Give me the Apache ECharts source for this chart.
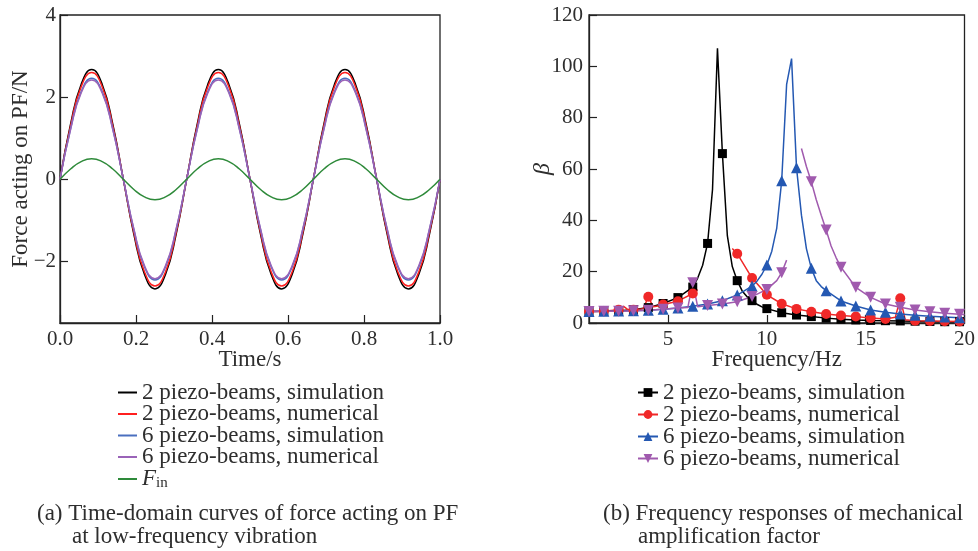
<!DOCTYPE html>
<html><head><meta charset="utf-8">
<script src="https://cdn.jsdelivr.net/npm/echarts@6/dist/echarts.min.js"></script>
<style>html,body{margin:0;padding:0;background:#fff}#c{width:978px;height:551px}</style>
</head><body><div id="c"></div>
<script>
// ---------- (a) time domain ----------
const timeS = [0,0.0278,0.0556,0.0833,0.1111,0.1389,0.1667,0.1944,0.2222,0.25,0.2778,0.3056,0.3333,0.3611,0.3889,0.4167,0.4444,0.4722,0.5,0.5278,0.5556,0.5833,0.6111,0.6389,0.6667,0.6944,0.7222,0.75,0.7778,0.8056,0.8333,0.8611,0.8889,0.9167,0.9444,0.9722,1.0];
const force2Sim = [0,1.34,2.31,2.67,2.31,1.34,0,-1.34,-2.31,-2.67,-2.31,-1.34,0,1.34,2.31,2.67,2.31,1.34,0,-1.34,-2.31,-2.67,-2.31,-1.34,0,1.34,2.31,2.67,2.31,1.34,0,-1.34,-2.31,-2.67,-2.31,-1.34,0];
const force2Num = [0,1.30,2.25,2.60,2.25,1.30,0,-1.30,-2.25,-2.60,-2.25,-1.30,0,1.30,2.25,2.60,2.25,1.30,0,-1.30,-2.25,-2.60,-2.25,-1.30,0,1.30,2.25,2.60,2.25,1.30,0,-1.30,-2.25,-2.60,-2.25,-1.30,0];
const force6Sim = [0,1.23,2.13,2.46,2.13,1.23,0,-1.23,-2.13,-2.45,-2.13,-1.23,0,1.23,2.13,2.46,2.13,1.23,0,-1.23,-2.13,-2.45,-2.13,-1.23,0,1.23,2.13,2.46,2.13,1.23,0,-1.23,-2.13,-2.45,-2.13,-1.23,0];
const force6Num = [0,1.21,2.10,2.42,2.10,1.21,0,-1.21,-2.10,-2.42,-2.10,-1.21,0,1.21,2.10,2.42,2.10,1.21,0,-1.21,-2.10,-2.42,-2.10,-1.21,0,1.21,2.10,2.42,2.10,1.21,0,-1.21,-2.10,-2.42,-2.10,-1.21,0];
const forceIn = [0,0.25,0.43,0.50,0.43,0.25,0,-0.25,-0.43,-0.50,-0.43,-0.25,0,0.25,0.43,0.50,0.43,0.25,0,-0.25,-0.43,-0.50,-0.43,-0.25,0,0.25,0.43,0.50,0.43,0.25,0,-0.25,-0.43,-0.50,-0.43,-0.25,0];
const forceTicks = [-2,0,2,4];

// ---------- (b) frequency response ----------
const markerFreq = [1,1.75,2.5,3.25,4,4.75,5.5,6.25,7,7.75,8.5,9.25,10,10.75,11.5,12.25,13,13.75,14.5,15.25,16,16.75,17.5,18.25,19,19.75];
const freqTicks = [5,10,15,20];

const b2SimFreq = [1,1.75,2.5,3.25,4,4.75,5.5,6.25,6.5,6.75,7,7.25,7.5,7.75,8,8.25,8.5,8.75,9,9.25,9.5,9.75,10,10.75,11.5,12.25,13,13.75,14.5,15.25,16,16.75,17.5,18.25,19,19.75,20];
const b2SimBeta = [4.5,4.6,4.8,5.2,6.0,7.6,9.9,14.0,17.5,22.5,31,52,107,66,34,22,16.5,12.5,10.2,8.7,7.3,6.3,5.6,4.0,3.1,2.5,1.9,1.5,1.2,1.0,0.9,0.8,0.7,0.6,0.5,0.5,0.5];

const b2NumFreq = [1,1.75,2.5,2.75,3,3.25,3.5,3.75,4,4.25,4.5,4.75,5.5,6.25,6.5,7,8.25,8.5,9.25,10,10.75,11.5,12.25,13,13.75,14.5,15.25,16,16.5,16.75,17,17.5,18.25,19,19.75,20];
const b2NumBeta = [4.5,4.6,5.2,6.5,5.0,5.2,5.3,5.6,10.2,6.3,6.6,7.2,8.5,11.5,13.0,null,29,27,17.5,11.0,7.5,5.5,4.4,3.5,2.9,2.5,1.9,1.6,2.2,9.6,1.3,0.9,0.8,0.7,0.6,0.6];

const b6SimFreq = [1,1.75,2.5,3.25,4,4.75,5.5,6.25,7,7.75,8.5,9.25,9.5,9.75,10,10.25,10.5,10.75,11,11.25,11.5,11.75,12,12.25,12.5,12.75,13,13.75,14.5,15.25,16,16.75,17.5,18.25,19,19.75,20];
const b6SimBeta = [4.5,4.6,4.7,4.8,5.0,5.4,5.8,6.5,7.4,8.7,10.9,14.4,16.3,19.0,22.6,28,37,55.4,93,103,60.5,42,29,21.3,16.5,14.2,12.6,8.6,6.6,5.1,4.2,3.5,3.0,2.6,2.3,2.0,2.0];

const b6NumFreq = [1,1.75,2.5,3.25,4,4.75,5.5,6,6.25,6.5,7,7.75,8.5,9.25,10,10.5,10.75,11,11.4,11.75,12,12.25,12.5,12.75,13,13.25,13.5,13.75,14.5,15.25,16,16.75,17.5,18.25,19,19.75,20];
const b6NumBeta = [4.5,4.6,4.6,4.8,5.0,5.4,5.8,6.0,15.7,6.3,6.8,7.4,8.3,10.3,13.1,16.5,19.6,24.5,null,68,61,55,48,42,36.2,30,25.5,21.7,13.9,10.0,7.4,6.1,5.1,4.4,3.8,3.4,3.3];

const FONT = 'Liberation Serif';
const TXT = '#2e2e2e';
const FS = 23;   // text size
const TS = 21;   // tick label size
const LH = 21.6; // legend row height

function pairs(xs, ys) { return xs.map((x, i) => [x, ys[i]]); }
function withMarkers(xs, ys) {
  return xs.map((x, i) => {
    const v = ys[i] === null ? '-' : ys[i];
    return markerFreq.indexOf(x) >= 0 ? { value: [x, v] } : { value: [x, v], symbol: 'none' };
  });
}

const chart = echarts.init(document.getElementById('c'), null, { renderer: 'canvas' });

const axisCommon = {
  axisLine: { show: true, onZero: false, lineStyle: { color: '#222', width: 1.3 } },
  axisTick: { show: true, inside: true, length: 8, lineStyle: { color: '#222', width: 1.2 } },
  splitLine: { show: false },
  nameMoveOverlap: false,
  nameTextStyle: { fontFamily: FONT, fontSize: FS, color: TXT },
};
const labelCommon = { fontFamily: FONT, fontSize: TS, color: TXT };

const leftLine = (name, data, color) => ({
  name, type: 'line', xAxisIndex: 0, yAxisIndex: 0,
  data: pairs(timeS, data), smooth: 0.5, symbol: 'none',
  lineStyle: { color, width: 1.5 }, itemStyle: { color }
});
const rightLine = (name, xs, ys, color, symbol, rot, size) => ({
  name, type: 'line', xAxisIndex: 1, yAxisIndex: 1,
  data: withMarkers(xs, ys), symbol, symbolRotate: rot, symbolSize: size,
  showSymbol: true, showAllSymbol: true, connectNulls: false,
  lineStyle: { color, width: 1.5 }, itemStyle: { color }
});

const C = { k: '#000000', r: '#f02828', b: '#2458b2', p: '#a05aae' };
const CL = { k: '#000000', r: '#ff1f1f', b: '#4a6fbf', p: '#9a63b8', g: '#2e8a3a' };

chart.setOption({
  animation: false,
  backgroundColor: '#ffffff',
  grid: [
    { left: 60, top: 15, width: 380, height: 308, show: true, borderColor: '#222', borderWidth: 1.3, backgroundColor: 'transparent' },
    { left: 589, top: 15, width: 378, height: 308, show: true, borderColor: '#222', borderWidth: 1.3, backgroundColor: 'transparent' }
  ],
  xAxis: [
    Object.assign({}, axisCommon, {
      gridIndex: 0, type: 'value', min: 0, max: 1, interval: 0.2,
      name: 'Time/s', nameLocation: 'middle', nameGap: 25,
      axisLabel: Object.assign({}, labelCommon, { margin: 6, formatter: v => v.toFixed(1) })
    }),
    Object.assign({}, axisCommon, {
      gridIndex: 1, type: 'value', min: 1, max: 20,
      name: 'Frequency/Hz', nameLocation: 'middle', nameGap: 25,
      axisTick: Object.assign({}, axisCommon.axisTick, { customValues: freqTicks }),
      axisLabel: Object.assign({}, labelCommon, { margin: 6, customValues: freqTicks })
    })
  ],
  yAxis: [
    Object.assign({}, axisCommon, {
      gridIndex: 0, type: 'value', min: -3.5, max: 4,
      name: 'Force acting on PF/N', nameLocation: 'middle', nameGap: 28,
      axisTick: Object.assign({}, axisCommon.axisTick, { customValues: forceTicks }),
      axisLabel: Object.assign({}, labelCommon, { margin: 4, customValues: forceTicks, formatter: v => String(v).replace('-', '\u2212') })
    }),
    Object.assign({}, axisCommon, {
      gridIndex: 1, type: 'value', min: 0, max: 120, interval: 20,
      name: 'β', nameLocation: 'middle', nameGap: 34,
      nameTextStyle: { fontFamily: FONT, fontSize: 24, color: TXT, fontStyle: 'italic' },
      axisLabel: Object.assign({}, labelCommon, { margin: 6 })
    })
  ],
  legend: [
    {
      orient: 'vertical', left: 118, top: 381, padding: 0, itemWidth: 19, itemHeight: 2, itemGap: -1.5,
      icon: 'rect',
      data: ['2 piezo-beams, simulation', '2 piezo-beams, numerical', '6 piezo-beams, simulation', '6 piezo-beams, numerical', 'Fin'],
      formatter: n => n === 'Fin' ? '{i|F}{s|in}' : n,
      textStyle: {
        fontFamily: FONT, fontSize: FS, color: TXT, lineHeight: LH,
        rich: { i: { fontFamily: FONT, fontSize: FS, fontStyle: 'italic', color: TXT, lineHeight: LH },
                s: { fontFamily: FONT, fontSize: 15, color: TXT, lineHeight: 12, padding: [9, 0, 0, 0] } }
      }
    },
    {
      orient: 'vertical', left: 637, top: 381, padding: 0, itemWidth: 20, itemHeight: 11, itemGap: -1,
      data: ['2 piezo-beams, simulation ', '2 piezo-beams, numerical ', '6 piezo-beams, simulation ', '6 piezo-beams, numerical '],
      textStyle: { fontFamily: FONT, fontSize: FS, color: TXT, lineHeight: LH }
    }
  ],
  graphic: [
    { type: 'text', left: 37, top: 502, style: { text: '(a) Time-domain curves of force acting on PF', font: FS + 'px "Liberation Serif"', fill: TXT } },
    { type: 'text', left: 72, top: 525, style: { text: 'at low-frequency vibration', font: FS + 'px "Liberation Serif"', fill: TXT } },
    { type: 'text', left: 603, top: 502, style: { text: '(b) Frequency responses of mechanical', font: FS + 'px "Liberation Serif"', fill: TXT } },
    { type: 'text', left: 638, top: 525, style: { text: 'amplification factor', font: FS + 'px "Liberation Serif"', fill: TXT } }
  ],
  series: [
    leftLine('2 piezo-beams, simulation', force2Sim, CL.k),
    leftLine('2 piezo-beams, numerical', force2Num, CL.r),
    leftLine('6 piezo-beams, simulation', force6Sim, CL.b),
    leftLine('6 piezo-beams, numerical', force6Num, CL.p),
    leftLine('Fin', forceIn, CL.g),
    rightLine('2 piezo-beams, simulation ', b2SimFreq, b2SimBeta, C.k, 'rect', 0, 9),
    rightLine('2 piezo-beams, numerical ', b2NumFreq, b2NumBeta, C.r, 'circle', 0, 10),
    rightLine('6 piezo-beams, simulation ', b6SimFreq, b6SimBeta, C.b, 'triangle', 0, 11),
    rightLine('6 piezo-beams, numerical ', b6NumFreq, b6NumBeta, C.p, 'triangle', 180, 11)
  ]
});
</script></body></html>
